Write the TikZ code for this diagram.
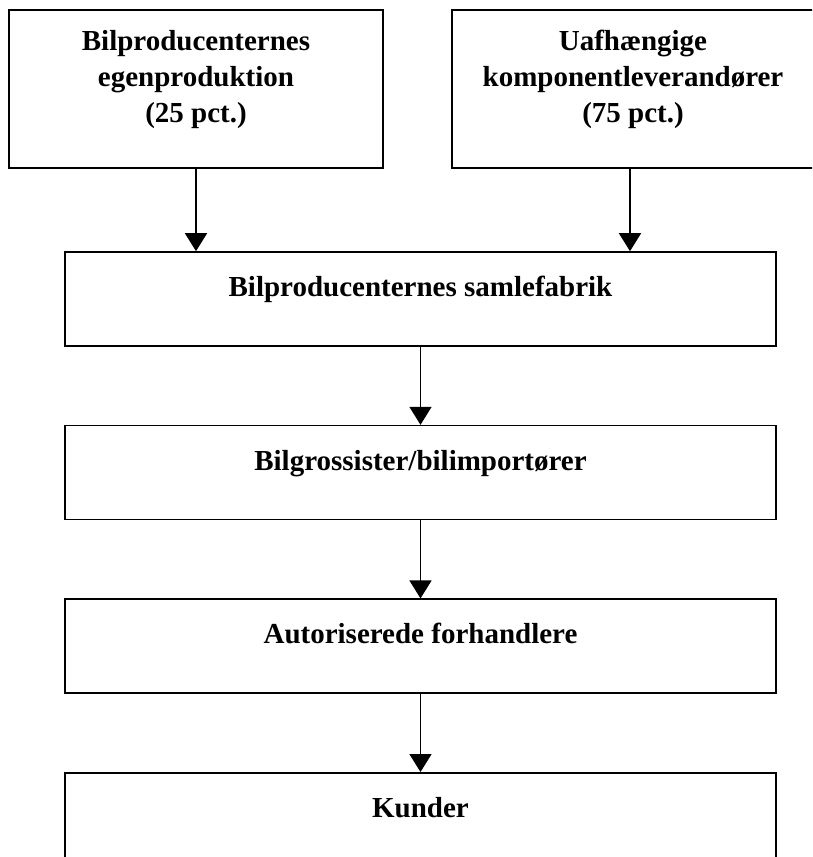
\documentclass[tikz,border=0pt]{standalone}
\usepackage{fontspec}
\setmainfont{Liberation Serif}
\usetikzlibrary{arrows.meta,positioning}
\tikzset{box/.style={draw,line width=1.6pt,align=center,inner sep=0pt,
    minimum width=711pt,minimum height=94pt,text depth=25pt,
    font=\bfseries\fontsize{29}{36}\selectfont},
  flow/.style={-{Triangle[width=22pt,length=18pt]},line width=1.6pt}}

\begin{document}
\begin{tikzpicture}[x=1pt,y=-1pt]
\clip (0,0) rectangle (812,857);
\node[box,minimum width=374pt,minimum height=158pt] (egen) at (196,89)
 {Bilproducenternes\\egenproduktion\\(25 pct.)};
\node[box,minimum width=362pt,minimum height=158pt] (uafh) at (633,89)
 {Uafhængige\\komponentleverandører\\(75 pct.)};
\node[box] (samle) at (420.5,299) {Bilproducenternes samlefabrik};
\node[box,below=78pt of samle] (gross) {Bilgrossister/bilimportører};
\node[box,below=78pt of gross] (forh) {Autoriserede forhandlere};
\node[box,below=78pt of forh] (kunder) {Kunder};
\draw[flow] (egen.south) -- (egen.south |- samle.north);
\draw[flow] ([xshift=-3pt]uafh.south) -- ([xshift=-3pt]uafh.south |- samle.north);
\draw[flow] (samle) -- (gross);
\draw[flow] (gross) -- (forh);
\draw[flow] (forh) -- (kunder);
\end{tikzpicture}
\end{document}
